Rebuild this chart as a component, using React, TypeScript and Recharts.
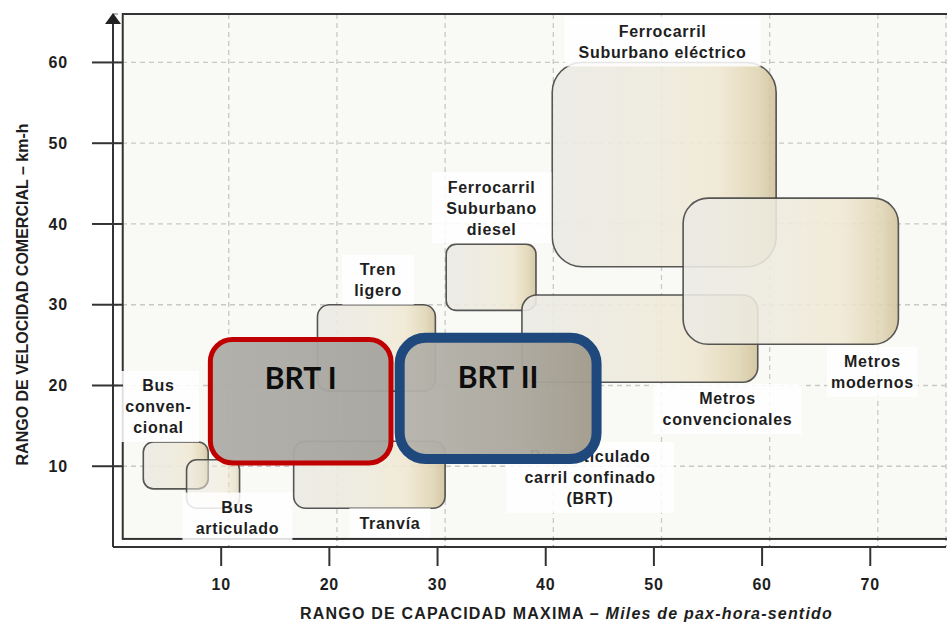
import React from 'react';
import { ComposedChart, XAxis, YAxis, CartesianGrid, ReferenceArea } from 'recharts';

// ---- axis ticks ----
const xTicks = [10, 20, 30, 40, 50, 60, 70];
const yTicks = [10, 20, 30, 40, 50, 60];

// ---- transport modes (capacity in thousands pax/h/dir, speed km/h) ----
const modes = [
  'Ferrocarril Suburbano eléctrico',
  'Ferrocarril Suburbano diesel',
  'Metros convencionales',
  'Metros modernos',
  'Tren ligero',
  'Tranvía',
  'Bus convencional',
  'Bus articulado',
];
const capMin = [40.6, 30.8, 37.8, 52.7, 18.9, 16.7, 2.8, 6.8];
const capMax = [61.3, 39.1, 59.6, 72.6, 29.8, 30.7, 8.8, 11.7];
const velMin = [34.7, 29.3, 20.4, 25.1, 19.3, 4.8, 7.2, 4.8];
const velMax = [60.0, 37.5, 31.2, 43.2, 30.0, 13.1, 13.0, 10.8];

// ---- BRT ranges ----
const brtNames = ['BRT I', 'BRT II'];
const brtCapMin = [9.0, 26.5];
const brtCapMax = [25.7, 44.7];
const brtVelMin = [10.4, 10.9];
const brtVelMax = [25.7, 25.9];

// ---- labels ----
const labelLines = [
  ['Ferrocarril', 'Suburbano eléctrico'],
  ['Ferrocarril', 'Suburbano', 'diesel'],
  ['Metros', 'convencionales'],
  ['Metros', 'modernos'],
  ['Tren', 'ligero'],
  ['Tranvía'],
  ['Bus', 'conven-', 'cional'],
  ['Bus', 'articulado'],
];
const brtLabelLines = ['Bus articulado', 'carril confinado', '(BRT)'];

// layout (label anchors in data space; style kept apart)
const labelAnchorCap = [50.8, 35.0, 56.8, 70.2, 24.5, 25.6, 4.2, 11.5];
const labelAnchorVel = [63.9, 44.6, 18.4, 23.0, 34.4, 3.0, 20.0, 4.95];
const brtLabelAnchor = { cap: 44.1, vel: 11.2 };
const boxRadius = [30, 10, 15, 25, 12, 12, 10, 10];
const boxOpacity = [0.9, 0.9, 0.9, 0.88, 0.88, 0.9, 0.9, 0.55];
const brtRadius = [22, 26];
const brtStroke = ['#c00000', '#1f497d'];
const brtStrokeWidth = [5, 10];
const brtFill = ['url(#brt1Grad)', 'url(#brt2Grad)'];

const FONT = '"Liberation Sans", Arial, sans-serif';
const TEXT = '#1e1e1e';

const boxShape = (r: number, opacity: number) => (p: any) => {
  const { x, y, width, height } = p;
  return (
    <rect
      x={x}
      y={y}
      width={width}
      height={height}
      rx={r}
      ry={r}
      fill="url(#boxGrad)"
      fillOpacity={opacity}
      stroke="#454545"
      strokeWidth={1.6}
      strokeOpacity={0.9}
    />
  );
};

const brtShape = (i: number) => (p: any) => {
  const { x, y, width, height } = p;
  return (
    <g>
      <rect
        x={x}
        y={y}
        width={width}
        height={height}
        rx={brtRadius[i]}
        ry={brtRadius[i]}
        fill={brtFill[i]}
        fillOpacity={0.95}
        stroke={brtStroke[i]}
        strokeWidth={brtStrokeWidth[i]}
      />
      <text
        x={x + width / 2}
        y={y + 50}
        textAnchor="middle"
        fontFamily='Lato, "Open Sans", sans-serif'
        fontWeight={700}
        fontSize={30}
        fill="#0d0d0d"
      >
        {brtNames[i]}
      </text>
    </g>
  );
};

const labelShape = (lines: string[]) => (p: any) => {
  const cx = p.x + p.width / 2;
  const cy = p.y + p.height / 2;
  const lh = 21;
  const maxLen = Math.max(...lines.map((l) => l.length));
  const w = maxLen * 9.6 + 14;
  const h = lines.length * lh + 8;
  return (
    <g>
      <rect x={cx - w / 2} y={cy - lh / 2 - 4} width={w} height={h} fill="#ffffff" fillOpacity={0.85} />
      {lines.map((l, k) => (
        <text
          key={k}
          x={cx}
          y={cy + k * lh}
          dy="0.36em"
          textAnchor="middle"
          fontFamily={FONT}
          fontWeight={700}
          fontSize={16}
          letterSpacing={0.7}
          fill={TEXT}
        >
          {l}
        </text>
      ))}
    </g>
  );
};

const frameShape = (p: any) => {
  const { x, y, width, height } = p;
  return <rect x={x} y={y} width={width} height={height} fill="#f4f4ee" fillOpacity={0.5} stroke="#333" strokeWidth={2} />;
};

const YTick = (p: any) => {
  const { x, y, payload } = p;
  return (
    <g>
      <line x1={x - 21} x2={x + 10} y1={y} y2={y} stroke="#333" strokeWidth={2} />
      <text x={x - 45} y={y} dy="0.36em" textAnchor="end" fontFamily={FONT} fontWeight={700} fontSize={16} letterSpacing={0.8} fill={TEXT}>
        {payload.value}
      </text>
    </g>
  );
};

const XTick = (p: any) => {
  const { x, y, payload } = p;
  return (
    <g>
      <line x1={x} x2={x} y1={y - 1} y2={y + 19} stroke="#333" strokeWidth={2} />
      <text x={x} y={y + 43} textAnchor="middle" fontFamily={FONT} fontWeight={700} fontSize={16} letterSpacing={0.8} fill={TEXT}>
        {payload.value}
      </text>
    </g>
  );
};

const YLabel = (p: any) => {
  const vb = p.viewBox || { x: 0, y: 14, width: 113, height: 533 };
  const ax = vb.x + vb.width;
  const top = vb.y;
  const cy = vb.y + vb.height / 2 + 14;
  return (
    <g>
      <polygon points={`${ax - 8},${top + 10} ${ax + 8},${top + 10} ${ax},${top - 1}`} fill="#222" />
      <text
        x={22}
        y={cy}
        transform={`rotate(-90, 22, ${cy})`}
        textAnchor="middle"
        dy="0.36em"
        fontFamily={FONT}
        fontWeight={700}
        fontSize={16}
        fill={TEXT}
      >
        RANGO DE VELOCIDAD COMERCIAL – km-h
      </text>
    </g>
  );
};

const XLabel = (p: any) => {
  const vb = p.viewBox || { x: 113, y: 547, width: 833, height: 75 };
  const cx = vb.x + vb.width / 2 + 37;
  return (
    <text x={cx} y={vb.y + 72} textAnchor="middle" fontFamily={FONT} fontWeight={700} fontSize={16} letterSpacing={1.2} fill={TEXT}>
      <tspan>RANGO DE CAPACIDAD MAXIMA – </tspan>
      <tspan fontStyle="italic">Miles de pax-hora-sentido</tspan>
    </text>
  );
};

export default function App() {
  return (
    <div style={{ position: 'absolute', left: 0, top: 0, background: '#fff' }}>
      <ComposedChart width={947} height={622} margin={{ top: 14, right: 1, bottom: 0, left: 0 }}>
        <defs>
          <linearGradient id="boxGrad" x1="0" y1="0" x2="1" y2="0">
            <stop offset="0" stopColor="#ebeae4" />
            <stop offset="0.5" stopColor="#eeebdd" />
            <stop offset="0.74" stopColor="#f0e8d3" />
            <stop offset="0.92" stopColor="#e0d5b4" />
            <stop offset="1" stopColor="#d0c29c" />
          </linearGradient>
          <linearGradient id="brt1Grad" x1="0" y1="0" x2="1" y2="0">
            <stop offset="0" stopColor="#aeada8" />
            <stop offset="1" stopColor="#a6a49e" />
          </linearGradient>
          <linearGradient id="brt2Grad" x1="0" y1="0" x2="1" y2="0">
            <stop offset="0" stopColor="#b4b2ab" />
            <stop offset="0.6" stopColor="#aba79d" />
            <stop offset="1" stopColor="#a09a8b" />
          </linearGradient>
        </defs>
        <CartesianGrid horizontal vertical={false} stroke="#9c9c9c" strokeDasharray="5 4" strokeWidth={1.3} />
        <CartesianGrid xAxisId="g" horizontal={false} vertical stroke="#9c9c9c" strokeDasharray="5 4" strokeWidth={1.3} />
        <XAxis
          type="number"
          dataKey="x"
          domain={[0, 77]}
          allowDataOverflow
          ticks={xTicks}
          interval={0}
          height={75}
          tickSize={0}
          tickMargin={0}
          tick={<XTick />}
          tickLine={false}
          axisLine={{ stroke: '#333', strokeWidth: 2 }}
          label={<XLabel />}
        />
        <XAxis xAxisId="g" type="number" dataKey="x" domain={[-0.7, 76.3]} allowDataOverflow ticks={xTicks} hide />
        <YAxis
          type="number"
          dataKey="y"
          domain={[0, 66]}
          allowDataOverflow
          ticks={yTicks}
          interval={0}
          width={113}
          tickSize={0}
          tickMargin={0}
          tick={<YTick />}
          tickLine={false}
          axisLine={{ stroke: '#333', strokeWidth: 2 }}
          label={<YLabel />}
        />
        <ReferenceArea x1={0.9} x2={77.3} y1={1} y2={66} ifOverflow="visible" shape={frameShape} />
        {modes.map((m, i) => (
          <ReferenceArea
            key={m}
            x1={capMin[i]}
            x2={capMax[i]}
            y1={velMin[i]}
            y2={velMax[i]}
            ifOverflow="visible"
            shape={boxShape(boxRadius[i], boxOpacity[i])}
          />
        ))}
        {labelLines.map((lines, i) => (
          <ReferenceArea
            key={'lab' + i}
            x1={labelAnchorCap[i] - 0.5}
            x2={labelAnchorCap[i] + 0.5}
            y1={labelAnchorVel[i] - 0.5}
            y2={labelAnchorVel[i] + 0.5}
            ifOverflow="visible"
            shape={labelShape(lines)}
          />
        ))}
        <ReferenceArea
          x1={brtLabelAnchor.cap - 0.5}
          x2={brtLabelAnchor.cap + 0.5}
          y1={brtLabelAnchor.vel - 0.5}
          y2={brtLabelAnchor.vel + 0.5}
          ifOverflow="visible"
          shape={labelShape(brtLabelLines)}
        />
        {brtNames.map((b, i) => (
          <ReferenceArea
            key={b}
            x1={brtCapMin[i]}
            x2={brtCapMax[i]}
            y1={brtVelMin[i]}
            y2={brtVelMax[i]}
            ifOverflow="visible"
            shape={brtShape(i)}
          />
        ))}
      </ComposedChart>
    </div>
  );
}
